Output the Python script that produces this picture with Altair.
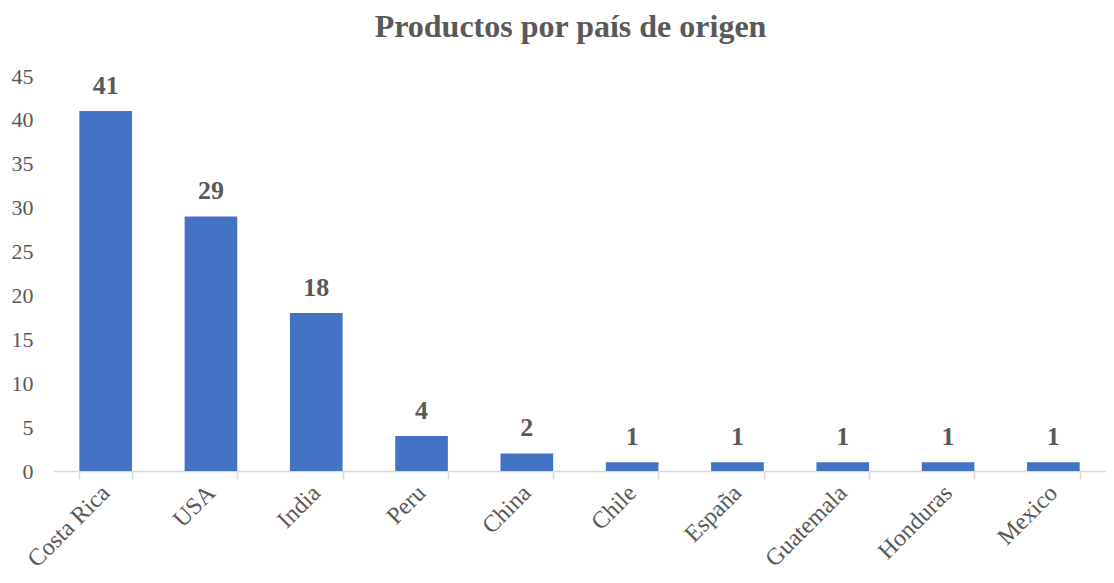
import altair as alt
import pandas as pd

countries = ["Costa Rica", "USA", "India", "Peru", "China", "Chile", "España", "Guatemala", "Honduras", "Mexico"]
counts = [41, 29, 18, 4, 2, 1, 1, 1, 1, 1]

df = pd.DataFrame({"pais": countries, "n": counts})

FONT = "Liberation Serif"
GREY = "#595959"

x = alt.X("pais:N", sort=countries, title=None,
          scale=alt.Scale(paddingInner=0.5, paddingOuter=0.25),
          axis=alt.Axis(labelAngle=-45, labelAlign="right", labelBaseline="middle",
                        labelFont=FONT, labelFontSize=24, labelColor=GREY, labelPadding=10,
                        tickBand="extent", tickColor="#d9d9d9", tickSize=8, tickWidth=1.5,
                        domainColor="#d9d9d9", domainWidth=1.5, grid=False))
y = alt.Y("n:Q", title=None,
          scale=alt.Scale(domain=[0, 45], nice=False),
          axis=alt.Axis(values=list(range(0, 50, 5)), labelFont=FONT, labelFontSize=22,
                        labelColor=GREY, labelPadding=20, ticks=False, domain=False, grid=False))

base = alt.Chart(df)
bars = base.mark_bar(color="#4472C4").encode(x=x, y=y)
labels = base.mark_text(font=FONT, fontSize=26, fontWeight="bold", color=GREY, dy=-12,
                        baseline="bottom").encode(x=x, y=y, text="n:Q")

chart = (bars + labels).properties(
    width=1053, height=395,
    title=alt.TitleParams("Productos por país de origen", font=FONT, fontSize=32,
                          fontWeight="bold", color=GREY, anchor="middle", offset=21, dx=-9),
    autosize=alt.AutoSizeParams(type="none"),
    padding={"left": 45, "top": 68, "right": 0, "bottom": 104},
).configure_view(stroke=None)

chart.save("out.html", embed_options={"renderer": "svg", "actions": False})
